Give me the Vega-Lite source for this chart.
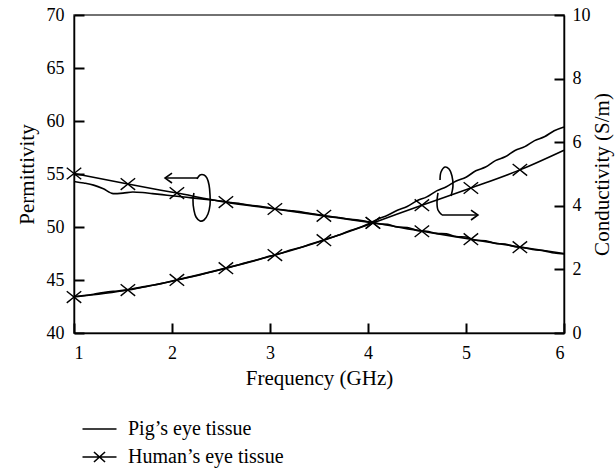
{
  "$schema": "https://vega.github.io/schema/vega-lite/v6.json",
  "width": 490,
  "height": 318,
  "autosize": "none",
  "padding": {"left": 74, "top": 15, "right": 52, "bottom": 138},
  "background": "white",
  "config": {
    "font": "Liberation Serif",
    "view": {"stroke": "#444", "strokeWidth": 1.5},
    "axis": {
      "grid": false,
      "domainColor": "black",
      "domainWidth": 1.5,
      "tickColor": "black",
      "tickWidth": 2,
      "tickSize": -10,
      "labelFont": "Liberation Serif",
      "labelFontSize": 18,
      "labelColor": "black",
      "titleFont": "Liberation Serif",
      "titleFontSize": 21,
      "titleFontWeight": "normal",
      "titleColor": "black"
    },
    "legend": {
      "labelFont": "Liberation Serif",
      "labelFontSize": 20,
      "labelColor": "black"
    }
  },
  "datasets": {
    "main": [
      {"f": 1.0, "tissue": "Pig’s eye tissue", "perm": 54.3, "cond": 1.15, "m": false},
      {"f": 1.1, "tissue": "Pig’s eye tissue", "perm": 54.15, "cond": 1.18, "m": false},
      {"f": 1.2, "tissue": "Pig’s eye tissue", "perm": 53.95, "cond": 1.22, "m": false},
      {"f": 1.3, "tissue": "Pig’s eye tissue", "perm": 53.6, "cond": 1.27, "m": false},
      {"f": 1.4, "tissue": "Pig’s eye tissue", "perm": 53.15, "cond": 1.31, "m": false},
      {"f": 1.5, "tissue": "Pig’s eye tissue", "perm": 53.2, "cond": 1.34, "m": false},
      {"f": 1.6, "tissue": "Pig’s eye tissue", "perm": 53.3, "cond": 1.39, "m": false},
      {"f": 1.7, "tissue": "Pig’s eye tissue", "perm": 53.25, "cond": 1.45, "m": false},
      {"f": 1.8, "tissue": "Pig’s eye tissue", "perm": 53.15, "cond": 1.5, "m": false},
      {"f": 1.9, "tissue": "Pig’s eye tissue", "perm": 53.05, "cond": 1.56, "m": false},
      {"f": 2.0, "tissue": "Pig’s eye tissue", "perm": 52.95, "cond": 1.63, "m": false},
      {"f": 2.1, "tissue": "Pig’s eye tissue", "perm": 52.85, "cond": 1.7, "m": false},
      {"f": 2.2, "tissue": "Pig’s eye tissue", "perm": 52.75, "cond": 1.77, "m": false},
      {"f": 2.3, "tissue": "Pig’s eye tissue", "perm": 52.65, "cond": 1.84, "m": false},
      {"f": 2.4, "tissue": "Pig’s eye tissue", "perm": 52.55, "cond": 1.92, "m": false},
      {"f": 2.5, "tissue": "Pig’s eye tissue", "perm": 52.45, "cond": 2.0, "m": false},
      {"f": 2.6, "tissue": "Pig’s eye tissue", "perm": 52.3, "cond": 2.08, "m": false},
      {"f": 2.7, "tissue": "Pig’s eye tissue", "perm": 52.2, "cond": 2.16, "m": false},
      {"f": 2.8, "tissue": "Pig’s eye tissue", "perm": 52.05, "cond": 2.25, "m": false},
      {"f": 2.9, "tissue": "Pig’s eye tissue", "perm": 51.95, "cond": 2.33, "m": false},
      {"f": 3.0, "tissue": "Pig’s eye tissue", "perm": 51.8, "cond": 2.42, "m": false},
      {"f": 3.1, "tissue": "Pig’s eye tissue", "perm": 51.65, "cond": 2.5, "m": false},
      {"f": 3.2, "tissue": "Pig’s eye tissue", "perm": 51.55, "cond": 2.6, "m": false},
      {"f": 3.3, "tissue": "Pig’s eye tissue", "perm": 51.45, "cond": 2.68, "m": false},
      {"f": 3.4, "tissue": "Pig’s eye tissue", "perm": 51.3, "cond": 2.78, "m": false},
      {"f": 3.5, "tissue": "Pig’s eye tissue", "perm": 51.15, "cond": 2.88, "m": false},
      {"f": 3.6, "tissue": "Pig’s eye tissue", "perm": 51.0, "cond": 2.98, "m": false},
      {"f": 3.7, "tissue": "Pig’s eye tissue", "perm": 50.9, "cond": 3.08, "m": false},
      {"f": 3.8, "tissue": "Pig’s eye tissue", "perm": 50.75, "cond": 3.2, "m": false},
      {"f": 3.9, "tissue": "Pig’s eye tissue", "perm": 50.65, "cond": 3.3, "m": false},
      {"f": 4.0, "tissue": "Pig’s eye tissue", "perm": 50.5, "cond": 3.43, "m": false},
      {"f": 4.1, "tissue": "Pig’s eye tissue", "perm": 50.3, "cond": 3.58, "m": false},
      {"f": 4.2, "tissue": "Pig’s eye tissue", "perm": 50.25, "cond": 3.7, "m": false},
      {"f": 4.3, "tissue": "Pig’s eye tissue", "perm": 50.0, "cond": 3.86, "m": false},
      {"f": 4.4, "tissue": "Pig’s eye tissue", "perm": 49.95, "cond": 3.98, "m": false},
      {"f": 4.5, "tissue": "Pig’s eye tissue", "perm": 49.7, "cond": 4.16, "m": false},
      {"f": 4.6, "tissue": "Pig’s eye tissue", "perm": 49.6, "cond": 4.28, "m": false},
      {"f": 4.7, "tissue": "Pig’s eye tissue", "perm": 49.4, "cond": 4.47, "m": false},
      {"f": 4.8, "tissue": "Pig’s eye tissue", "perm": 49.35, "cond": 4.6, "m": false},
      {"f": 4.9, "tissue": "Pig’s eye tissue", "perm": 49.1, "cond": 4.78, "m": false},
      {"f": 5.0, "tissue": "Pig’s eye tissue", "perm": 49.05, "cond": 4.9, "m": false},
      {"f": 5.1, "tissue": "Pig’s eye tissue", "perm": 48.75, "cond": 5.1, "m": false},
      {"f": 5.2, "tissue": "Pig’s eye tissue", "perm": 48.7, "cond": 5.22, "m": false},
      {"f": 5.3, "tissue": "Pig’s eye tissue", "perm": 48.45, "cond": 5.42, "m": false},
      {"f": 5.4, "tissue": "Pig’s eye tissue", "perm": 48.4, "cond": 5.54, "m": false},
      {"f": 5.5, "tissue": "Pig’s eye tissue", "perm": 48.15, "cond": 5.74, "m": false},
      {"f": 5.6, "tissue": "Pig’s eye tissue", "perm": 48.05, "cond": 5.86, "m": false},
      {"f": 5.7, "tissue": "Pig’s eye tissue", "perm": 47.85, "cond": 6.05, "m": false},
      {"f": 5.8, "tissue": "Pig’s eye tissue", "perm": 47.75, "cond": 6.17, "m": false},
      {"f": 5.9, "tissue": "Pig’s eye tissue", "perm": 47.55, "cond": 6.36, "m": false},
      {"f": 6.0, "tissue": "Pig’s eye tissue", "perm": 47.45, "cond": 6.48, "m": false},
      {"f": 1.0, "tissue": "Human’s eye tissue", "perm": 55.05, "cond": 1.13, "m": true},
      {"f": 1.55, "tissue": "Human’s eye tissue", "perm": 54.05, "cond": 1.35, "m": true},
      {"f": 2.05, "tissue": "Human’s eye tissue", "perm": 53.2, "cond": 1.67, "m": true},
      {"f": 2.55, "tissue": "Human’s eye tissue", "perm": 52.35, "cond": 2.04, "m": true},
      {"f": 3.05, "tissue": "Human’s eye tissue", "perm": 51.7, "cond": 2.45, "m": true},
      {"f": 3.55, "tissue": "Human’s eye tissue", "perm": 51.05, "cond": 2.92, "m": true},
      {"f": 4.05, "tissue": "Human’s eye tissue", "perm": 50.4, "cond": 3.46, "m": true},
      {"f": 4.55, "tissue": "Human’s eye tissue", "perm": 49.6, "cond": 4.02, "m": true},
      {"f": 5.05, "tissue": "Human’s eye tissue", "perm": 48.85, "cond": 4.56, "m": true},
      {"f": 5.55, "tissue": "Human’s eye tissue", "perm": 48.1, "cond": 5.13, "m": true},
      {"f": 6.0, "tissue": "Human’s eye tissue", "perm": 47.5, "cond": 5.75, "m": false}
    ],
    "ann": [
      {"id": "a1", "k": "s", "o": 1, "f": 1.929, "perm": 54.62},
      {"id": "a1", "k": "s", "o": 2, "f": 2.26, "perm": 54.62},
      {"id": "h1", "k": "s", "o": 1, "f": 2.0, "perm": 55.09},
      {"id": "h1", "k": "s", "o": 2, "f": 1.929, "perm": 54.62},
      {"id": "h1", "k": "s", "o": 3, "f": 2.0, "perm": 54.15},
      {"id": "c1", "k": "c", "o": 1, "f": 2.255, "perm": 54.53},
      {"id": "c1", "k": "c", "o": 2, "f": 2.286, "perm": 54.91},
      {"id": "c1", "k": "c", "o": 3, "f": 2.327, "perm": 54.91},
      {"id": "c1", "k": "c", "o": 4, "f": 2.357, "perm": 54.62},
      {"id": "c1", "k": "c", "o": 5, "f": 2.378, "perm": 53.96},
      {"id": "c1", "k": "c", "o": 6, "f": 2.388, "perm": 53.02},
      {"id": "c1", "k": "c", "o": 7, "f": 2.388, "perm": 52.08},
      {"id": "c1", "k": "c", "o": 8, "f": 2.367, "perm": 51.23},
      {"id": "c1", "k": "c", "o": 9, "f": 2.327, "perm": 50.66},
      {"id": "c1", "k": "c", "o": 10, "f": 2.286, "perm": 50.57},
      {"id": "c1", "k": "c", "o": 11, "f": 2.245, "perm": 50.94},
      {"id": "c1", "k": "c", "o": 12, "f": 2.224, "perm": 51.6},
      {"id": "c1", "k": "c", "o": 13, "f": 2.214, "perm": 52.55},
      {"id": "c1", "k": "c", "o": 14, "f": 2.224, "perm": 53.21},
      {"id": "a2", "k": "s", "o": 1, "f": 4.755, "perm": 51.13},
      {"id": "a2", "k": "s", "o": 2, "f": 5.122, "perm": 51.13},
      {"id": "h2", "k": "s", "o": 1, "f": 5.051, "perm": 51.6},
      {"id": "h2", "k": "s", "o": 2, "f": 5.122, "perm": 51.13},
      {"id": "h2", "k": "s", "o": 3, "f": 5.051, "perm": 50.66},
      {"id": "c2", "k": "c", "o": 1, "f": 4.755, "perm": 51.13},
      {"id": "c2", "k": "c", "o": 2, "f": 4.714, "perm": 51.6},
      {"id": "c2", "k": "c", "o": 3, "f": 4.704, "perm": 52.36},
      {"id": "c2", "k": "c", "o": 4, "f": 4.714, "perm": 53.21},
      {"id": "c3", "k": "c", "o": 1, "f": 4.735, "perm": 54.43},
      {"id": "c3", "k": "c", "o": 2, "f": 4.745, "perm": 55.19},
      {"id": "c3", "k": "c", "o": 3, "f": 4.786, "perm": 55.66},
      {"id": "c3", "k": "c", "o": 4, "f": 4.827, "perm": 55.47},
      {"id": "c3", "k": "c", "o": 5, "f": 4.857, "perm": 54.81},
      {"id": "c3", "k": "c", "o": 6, "f": 4.867, "perm": 53.87},
      {"id": "c3", "k": "c", "o": 7, "f": 4.847, "perm": 52.92}
    ]
  },
  "encoding": {
    "x": {
      "field": "f",
      "type": "quantitative",
      "scale": {"domain": [1, 6], "nice": false, "zero": false},
      "axis": {"values": [1, 2, 3, 4, 5, 6], "title": "Frequency (GHz)", "labelPadding": 21, "titlePadding": 5, "format": "d"}
    }
  },
  "layer": [
    {
      "encoding": {
        "y": {
          "field": "perm",
          "type": "quantitative",
          "scale": {"domain": [40, 70], "nice": false, "zero": false},
          "axis": {"orient": "left", "values": [40, 45, 50, 55, 60, 65, 70], "title": "Permittivity", "labelPadding": 20, "titlePadding": 9}
        }
      },
      "layer": [
        {
          "data": {"name": "main"},
          "mark": {"type": "line", "interpolate": "monotone", "color": "black", "strokeWidth": 1.6},
          "encoding": {"detail": {"field": "tissue"}}
        },
        {
          "data": {"name": "main"},
          "transform": [{"filter": "datum.m"}],
          "mark": {"type": "point", "shape": "M-1,-0.8L1,0.8M-1,0.8L1,-0.8", "size": 210, "filled": false, "color": "black", "strokeWidth": 1.4, "opacity": 1}
        },
        {
          "data": {"name": "ann"},
          "transform": [{"filter": "datum.k == 's'"}],
          "mark": {"type": "line", "color": "black", "strokeWidth": 1.6},
          "encoding": {"detail": {"field": "id"}, "order": {"field": "o", "type": "quantitative"}}
        },
        {
          "data": {"name": "ann"},
          "transform": [{"filter": "datum.k == 'c'"}],
          "mark": {"type": "line", "color": "black", "strokeWidth": 1.6, "interpolate": "catmull-rom"},
          "encoding": {"detail": {"field": "id"}, "order": {"field": "o", "type": "quantitative"}}
        },
        {
          "data": {"name": "main"},
          "transform": [{"filter": "datum.m"}],
          "mark": {"type": "point", "filled": false, "color": "black", "opacity": 0},
          "encoding": {
            "shape": {
              "field": "tissue",
              "type": "nominal",
              "scale": {
                "domain": ["Pig’s eye tissue", "Human’s eye tissue"],
                "range": ["M-2,0H2", "M-2,0H2M-0.65,-0.59L0.65,0.59M-0.65,0.59L0.65,-0.59"]
              },
              "legend": {
                "title": null,
                "orient": "none",
                "legendX": 15.5,
                "legendY": 404,
                "symbolSize": 289,
                "symbolStrokeWidth": 1.6,
                "symbolStrokeColor": "black",
                "symbolOpacity": 1,
                "labelOffset": 18.5,
                "rowPadding": 8
              }
            }
          }
        }
      ]
    },
    {
      "encoding": {
        "y": {
          "field": "cond",
          "type": "quantitative",
          "scale": {"domain": [0, 10], "nice": false, "zero": false},
          "axis": {"orient": "right", "values": [0, 2, 4, 6, 8, 10], "title": "Conductivity (S/m)", "titleAngle": -90, "labelPadding": 18, "titlePadding": 22}
        }
      },
      "layer": [
        {
          "data": {"name": "main"},
          "mark": {"type": "line", "interpolate": "monotone", "color": "black", "strokeWidth": 1.6},
          "encoding": {"detail": {"field": "tissue"}}
        },
        {
          "data": {"name": "main"},
          "transform": [{"filter": "datum.m"}],
          "mark": {"type": "point", "shape": "M-1,-0.8L1,0.8M-1,0.8L1,-0.8", "size": 210, "filled": false, "color": "black", "strokeWidth": 1.4, "opacity": 1}
        }
      ]
    }
  ],
  "resolve": {"scale": {"y": "independent"}}
}
